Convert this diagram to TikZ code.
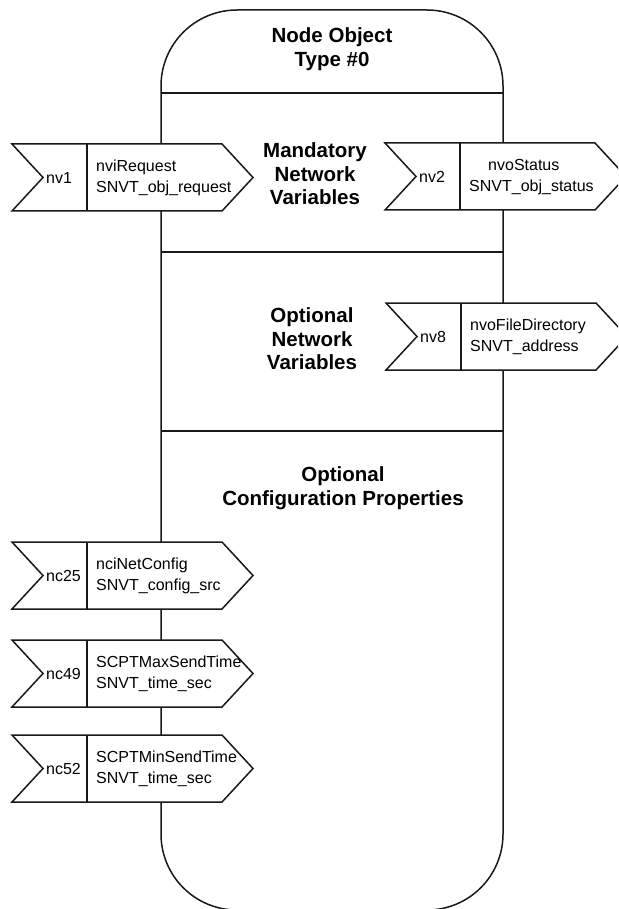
\documentclass[tikz,border=0pt]{standalone}
\usepackage{fontspec}
\setmainfont{Liberation Sans}
\tikzset{
  outline/.style={draw=black!90, line width=1.5pt},
  pinline/.style={draw=black!90, line width=1.5pt, line join=miter},
  sectiontext/.style={font=\fontsize{20.5}{23.5}\selectfont\bfseries, align=center, inner sep=0pt},
  tagtext/.style={font=\fontsize{16}{20}\selectfont, inner sep=0pt},
  pintext/.style={font=\fontsize{16}{21}\selectfont, align=left, inner sep=0pt},
}
\newcommand\lonpin[5]{%
  \draw[pinline, fill=white] (#2,#3) -- ++(210,0) -- ++(31,33.5) -- ++(-31,33.5) -- ++(-210,0) -- ++(31,-33.5) -- cycle;
  \draw[pinline] (#2+75,#3) -- (#2+75,#3+67);
  \node[tagtext, anchor=west] (#1tag) at (#2+34,#3+33.5) {#4};
  \node[pintext, anchor=west] (#1txt) at (#2+84,#3+34) {#5};
}
\begin{document}
\begin{tikzpicture}[x=1pt, y=-1pt]
\useasboundingbox (0,0) rectangle (618,909);
\clip (0,0) rectangle (618,909);
% main object body
\coordinate (bodyTL) at (161,10);
\coordinate (bodyBR) at (503,910);
\draw[outline] (161,86) arc[start angle=180, end angle=270, radius=76]
  -- (427,10) arc[start angle=270, end angle=360, radius=76]
  -- (503,834) arc[start angle=0, end angle=90, radius=76]
  -- (237,910) arc[start angle=90, end angle=180, radius=76] -- cycle;
\coordinate (d1) at (0,93);
\coordinate (d2) at (0,252);
\coordinate (d3) at (0,431);
\draw[outline] (bodyTL |- d1) -- (bodyBR |- d1);
\draw[outline] (bodyTL |- d2) -- (bodyBR |- d2);
\draw[outline] (bodyTL |- d3) -- (bodyBR |- d3);
% section titles
\node[sectiontext] (title) at (332,49) {Node Object\\Type \#0};
\node[sectiontext] (mand) at (315,174) {Mandatory\\Network\\Variables};
\node[sectiontext] (opt) at (312,339) {Optional\\Network\\Variables};
\node[sectiontext] (cfg) at (343,488) {Optional\\Configuration Properties};
% pins
\lonpin{nvone}{12}{144}{nv1}{nviRequest\\SNVT\_obj\_request}
\lonpin{nvtwo}{385}{143}{nv2}{\hspace*{19pt}nvoStatus\\SNVT\_obj\_status}
\lonpin{nveight}{386}{303}{nv8}{nvoFileDirectory\\SNVT\_address}
\lonpin{nctwentyfive}{12}{542}{nc25}{nciNetConfig\\SNVT\_config\_src}
\lonpin{ncfortynine}{12}{640}{nc49}{SCPTMaxSendTime\\SNVT\_time\_sec}
\lonpin{ncfiftytwo}{12}{735}{nc52}{SCPTMinSendTime\\SNVT\_time\_sec}
\end{tikzpicture}
\end{document}
